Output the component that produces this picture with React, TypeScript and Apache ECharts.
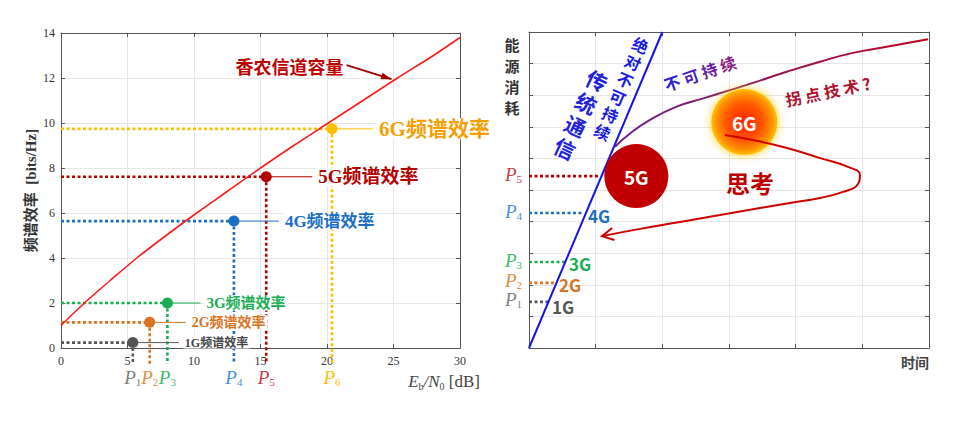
import React, { useEffect, useRef } from "react";
import * as echarts from "echarts";

// ---------- Left panel data ----------
const leftXTicks = { min: 0, max: 30, step: 5 };
const leftYTicks = { min: 0, max: 14, step: 2 };
const shannonX = [0, 1.76, 3.7, 5.7, 7.9, 10.2, 12.6, 15.0, 17.5, 20.1, 22.7, 25.3, 28.0, 30];
const shannonY = [1, 2, 3, 4, 5, 6, 7, 8, 9, 10, 11, 12, 13, 13.8];
const genNames = ["1G", "2G", "3G", "4G", "5G", "6G"];
const genX = [5.4, 6.67, 8.0, 13.0, 15.43, 20.38];
const genY = [0.24, 1.14, 2.0, 5.64, 7.61, 9.74];
const genDropTo = -0.7;
const pSubs = ["1", "2", "3", "4", "5", "6"];
const shannonArrowTip = [24.85, 11.95];

// ---------- Right panel data ----------
const rightXRange = [0, 6];
const rightYRange = [0, 10];
const blueLineX = [0, 2];
const blueLineY = [0, 10];
const curveX = [1.29, 1.515, 1.815, 2.215, 2.615, 3.015, 3.36, 3.865, 4.365, 4.86, 5.365, 5.985];
const curveY = [6.37, 6.79, 7.22, 7.64, 7.9, 8.16, 8.39, 8.74, 9.06, 9.34, 9.53, 9.77];
const thinkX = [2.94, 3.36, 3.87, 4.365, 4.785, 4.965, 4.935, 4.71, 4.365, 3.915, 3.465, 2.865, 2.265, 1.665, 1.095];
const thinkY = [6.74, 6.58, 6.33, 6.01, 5.73, 5.47, 5.19, 4.94, 4.75, 4.59, 4.43, 4.21, 3.99, 3.77, 3.54];
const levelNames = ["1G", "2G", "3G", "4G", "5G"];
const levelY = [1.46, 2.06, 2.72, 4.27, 5.44];
const levelEndX = [0.285, 0.39, 0.54, 0.825, 1.065];
const circle5G = [1.61, 5.44];
const circle6G = [3.23, 7.15];

// ---------- styles ----------
const genColors = ["#555555", "#D9731F", "#19AE53", "#1B6FC2", "#B30000", "#FFC000"];
const genLabelColors = ["#444444", "#D9731F", "#19AE53", "#1B6FC2", "#B30000", "#F5A000"];
const pColors = ["#7F7F7F", "#E38B3C", "#3DBB6A", "#4A8FE0", "#C8404A", "#FFC000"];
const genLabelSizes = [12, 14, 15, 17, 19, 21];
const genLabelGap = [50, 40, 37, 49, 50, 45];
const rightLabelDy = [5, 2, 1, 2];

const SERIF = '"Liberation Serif", "DejaVu Serif", serif';
const CJK_SERIF = '"Liberation Serif", "Noto Sans CJK SC", serif';
const SANS = '"Noto Sans CJK SC", "Noto Sans", sans-serif';

const zip = (a: number[], b: number[]) => a.map((v, i) => [v, b[i]]);

function vHead(tip: number[], from: number[], len: number, deg: number) {
  const dx = from[0] - tip[0];
  const dy = from[1] - tip[1];
  const L = Math.hypot(dx, dy) || 1;
  const ux = dx / L;
  const uy = dy / L;
  const a = (deg * Math.PI) / 180;
  const r = (ang: number) => [
    tip[0] + len * (ux * Math.cos(ang) - uy * Math.sin(ang)),
    tip[1] + len * (ux * Math.sin(ang) + uy * Math.cos(ang)),
  ];
  return [r(a), tip, r(-a)];
}

function pRich(sub: string, color: string) {
  return {
    text: `{p|P}{s|${sub}}`,
    rich: {
      p: { fontFamily: SERIF, fontStyle: "italic", fontSize: 19, fill: color, lineHeight: 20 },
      s: { fontFamily: SERIF, fontSize: 11, fill: color, lineHeight: 11, verticalAlign: "bottom" },
    },
  };
}

export default function App() {
  const ref = useRef<HTMLDivElement>(null);
  useEffect(() => {
    const chart = echarts.init(ref.current!, null, { renderer: "svg" });

    const axisLine = { show: true, onZero: false, lineStyle: { color: "#555", width: 1 } };
    const tick = { show: true, inside: true, length: 4, lineStyle: { color: "#555" } };
    const split = { show: true, lineStyle: { color: "#E6E6E6", width: 1 } };
    const dotted = (color: string) => ({ color, width: 2.6, type: [3, 2.5], cap: "butt" });

    const series: any[] = [];
    // Left: Shannon line
    series.push({
      type: "line", xAxisIndex: 0, yAxisIndex: 0, data: zip(shannonX, shannonY), showSymbol: false, smooth: 0.3,
      lineStyle: { color: "#FF1A1A", width: 1.6 }, z: 4, silent: true,
    });
    genX.forEach((x, i) => {
      series.push({
        type: "line", xAxisIndex: 0, yAxisIndex: 0, data: [[0, genY[i]], [x, genY[i]]], showSymbol: false,
        lineStyle: dotted(genColors[i]), z: 3, silent: true,
      });
      series.push({
        type: "line", xAxisIndex: 0, yAxisIndex: 0, data: [[x, genY[i]], [x, genDropTo]], showSymbol: false, clip: false,
        lineStyle: dotted(genColors[i]), z: 3, silent: true,
      });
    });
    series.push({
      type: "scatter", xAxisIndex: 0, yAxisIndex: 0, symbolSize: 11, z: 6, silent: true,
      data: genX.map((x, i) => ({ value: [x, genY[i]], itemStyle: { color: genColors[i], opacity: 1 } })),
    });

    // Right panel
    series.push({
      type: "line", xAxisIndex: 2, yAxisIndex: 2, data: zip(blueLineX, blueLineY), showSymbol: false,
      lineStyle: { color: "#1414E6", width: 2 }, z: 4, silent: true,
    });
    levelY.forEach((y, i) => {
      series.push({
        type: "line", xAxisIndex: 2, yAxisIndex: 2, data: [[0, y], [levelEndX[i], y]], showSymbol: false,
        lineStyle: dotted(genColors[i]), z: 3, silent: true,
      });
    });
    series.push({
      type: "scatter", xAxisIndex: 2, yAxisIndex: 2, z: 5, silent: true,
      label: { show: true, position: "inside", color: "#fff", fontSize: 19, fontWeight: "bold", fontFamily: SANS },
      data: [
        { value: circle5G, symbolSize: 64, itemStyle: { color: "#C00000", opacity: 1 }, label: { formatter: "5G" } },
        {
          value: circle6G, symbolSize: 66,
          itemStyle: {
            opacity: 1,
            color: new echarts.graphic.RadialGradient(0.5, 0.5, 0.5, [
              { offset: 0, color: "#FF2400" },
              { offset: 0.55, color: "#FF5500" },
              { offset: 0.85, color: "#FF9200" },
              { offset: 1, color: "#FFC400" },
            ]),
            shadowBlur: 10, shadowColor: "rgba(255,200,0,0.85)",
          },
          label: { formatter: "6G" },
        },
      ],
    });
    series.push({
      type: "line", xAxisIndex: 2, yAxisIndex: 2, data: zip(curveX, curveY), showSymbol: false, smooth: true,
      lineStyle: {
        width: 2,
        color: new echarts.graphic.LinearGradient(0, 0, 1, 0, [
          { offset: 0, color: "#6B2390" },
          { offset: 0.5, color: "#951452" },
          { offset: 1, color: "#C4001A" },
        ]),
      },
      z: 4, silent: true,
    });
    series.push({
      type: "line", xAxisIndex: 2, yAxisIndex: 2, data: zip(thinkX, thinkY), showSymbol: false, smooth: true,
      lineStyle: { color: "#D00000", width: 2 }, z: 7, silent: true,
    });

    const option: any = {
      animation: false,
      backgroundColor: "#fff",
      grid: [
        { left: 61, top: 33, width: 399, height: 315 },
        { left: 529, top: 32, width: 400, height: 316 },
      ],
      xAxis: [
        {
          gridIndex: 0, type: "value", min: leftXTicks.min, max: leftXTicks.max, interval: leftXTicks.step, position: "bottom",
          axisLine, axisTick: tick, splitLine: split,
          axisLabel: { color: "#333", fontFamily: SERIF, fontSize: 12, margin: 7 },
        },
        {
          gridIndex: 0, type: "value", min: leftXTicks.min, max: leftXTicks.max, interval: leftXTicks.step, position: "top",
          axisLine, axisTick: tick, splitLine: { show: false }, axisLabel: { show: false },
        },
        {
          gridIndex: 1, type: "value", min: rightXRange[0], max: rightXRange[1], interval: 1, position: "bottom",
          axisLine, axisTick: tick, splitLine: split, axisLabel: { show: false },
        },
        {
          gridIndex: 1, type: "value", min: rightXRange[0], max: rightXRange[1], interval: 1, position: "top",
          axisLine, axisTick: tick, splitLine: { show: false }, axisLabel: { show: false },
        },
      ],
      yAxis: [
        {
          gridIndex: 0, type: "value", min: leftYTicks.min, max: leftYTicks.max, interval: leftYTicks.step, position: "left",
          axisLine, axisTick: tick, splitLine: split,
          axisLabel: { color: "#333", fontFamily: SERIF, fontSize: 12, margin: 6 },
          name: "频谱效率  [bits/Hz]", nameLocation: "middle", nameGap: 23,
          nameTextStyle: { color: "#333", fontFamily: CJK_SERIF, fontSize: 15, fontWeight: "bold" },
        },
        {
          gridIndex: 0, type: "value", min: leftYTicks.min, max: leftYTicks.max, interval: leftYTicks.step, position: "right",
          axisLine, axisTick: tick, splitLine: { show: false }, axisLabel: { show: false },
        },
        {
          gridIndex: 1, type: "value", min: rightYRange[0], max: rightYRange[1], interval: 1, position: "left",
          axisLine, axisTick: tick, splitLine: split, axisLabel: { show: false },
        },
        {
          gridIndex: 1, type: "value", min: rightYRange[0], max: rightYRange[1], interval: 1, position: "right",
          axisLine, axisTick: tick, splitLine: { show: false }, axisLabel: { show: false },
        },
      ],
      series,
    };
    chart.setOption(option);

    const p0 = (x: number, y: number) => chart.convertToPixel({ gridIndex: 0 } as any, [x, y]) as number[];
    const p1 = (x: number, y: number) => chart.convertToPixel({ gridIndex: 1 } as any, [x, y]) as number[];
    const g: any[] = [];

    // Left labels
    genX.forEach((x, i) => {
      const [px, py] = p0(x, genY[i]);
      g.push({
        type: "line", z: 15, shape: { x1: px + 4, y1: py, x2: px + genLabelGap[i] - 4, y2: py },
        style: { stroke: genColors[i], lineWidth: 1 }, silent: true,
      });
      g.push({
        type: "text", z: 20, x: px + genLabelGap[i], y: py, silent: true,
        style: {
          text: genNames[i] + "频谱效率", fill: genLabelColors[i], textAlign: "left", verticalAlign: "middle",
          font: `bold ${genLabelSizes[i]}px ${CJK_SERIF}`, backgroundColor: "#fff", padding: [0, 2],
        },
      });
      const [bx, by] = p0(x, 0);
      g.push({
        type: "text", z: 20, x: bx, y: by + 29, silent: true,
        style: { ...pRich(pSubs[i], pColors[i]), textAlign: "center", verticalAlign: "middle", fill: pColors[i] },
      });
    });
    // x axis name
    {
      const [ex, ey] = p0(30, 0);
      g.push({
        type: "text", z: 20, x: ex + 20, y: ey + 33, silent: true,
        style: {
          text: "{i|E}{s|b}{i|/N}{s|0}{n| [dB]}", textAlign: "right", verticalAlign: "middle", fill: "#444",
          rich: {
            i: { fontFamily: SERIF, fontStyle: "italic", fontSize: 17, fill: "#444", lineHeight: 20 },
            s: { fontFamily: SERIF, fontSize: 10, fill: "#444", lineHeight: 10, verticalAlign: "bottom" },
            n: { fontFamily: SERIF, fontSize: 17, fill: "#444", lineHeight: 20 },
          },
        },
      });
    }
    // Shannon arrow
    {
      const tip = p0(shannonArrowTip[0], shannonArrowTip[1]);
      const tail = [tip[0] - 45, tip[1] - 14];
      g.push({ type: "line", z: 15, shape: { x1: tail[0], y1: tail[1], x2: tip[0], y2: tip[1] }, style: { stroke: "#A50000", lineWidth: 2 }, silent: true });
      g.push({ type: "polygon", z: 15, shape: { points: vHead(tip, tail, 11, 18) }, style: { fill: "#A50000" }, silent: true });
      g.push({
        type: "text", z: 20, x: tail[0] - 3, y: tail[1] + 1, silent: true,
        style: { text: "香农信道容量", fill: "#C00000", font: `bold 18px ${SANS}`, textAlign: "right", verticalAlign: "middle" },
      });
    }

    // Right labels
    levelY.forEach((y, i) => {
      const [ax, ay] = p1(0, y);
      g.push({
        type: "text", z: 20, x: ax - 7, y: ay - 2, silent: true,
        style: { ...pRich(pSubs[i], pColors[i]), textAlign: "right", verticalAlign: "middle", fill: pColors[i] },
      });
      if (i < 4) {
        const [lx, ly] = p1(levelEndX[i], y);
        g.push({
          type: "text", z: 20, x: lx + 4, y: ly + rightLabelDy[i], silent: true,
          style: {
            text: levelNames[i], fill: genColors[i], font: `bold 17px ${SANS}`,
            textAlign: "left", verticalAlign: "middle",
          },
        });
      }
    });
    {
      const [tx, ty] = p1(0, 10);
      g.push({
        type: "text", z: 20, x: tx - 17, y: ty + 2, silent: true,
        style: { text: "能\n源\n消\n耗", fill: "#333", font: `bold 15px ${SANS}`, lineHeight: 21, textAlign: "center", verticalAlign: "top" },
      });
      const [rx, ry] = p1(6, 0);
      g.push({
        type: "text", z: 20, x: rx, y: ry + 14, silent: true,
        style: { text: "时间", fill: "#444", font: `bold 14px ${SANS}`, textAlign: "right", verticalAlign: "middle" },
      });
      const c1 = p1(1.39, 8.22);
      g.push({
        type: "text", z: 20, x: c1[0], y: c1[1], rotation: -0.41, silent: true,
        style: { text: "绝\n对\n不\n可\n持\n续", fill: "#1A1AE0", font: `bold 16px ${SANS}`, lineHeight: 19, textAlign: "center", verticalAlign: "middle" },
      });
      const c2 = p1(0.78, 7.4);
      g.push({
        type: "text", z: 20, x: c2[0], y: c2[1], rotation: -0.44, silent: true,
        style: {
          text: "传\n统\n通\n信", fill: "#2222DD", font: `bold 21px ${SANS}`, lineHeight: 25, textAlign: "center", verticalAlign: "middle",
          shadowBlur: 6, shadowColor: "rgba(90,90,255,0.8)",
        },
      });
      const c3 = p1(2.565, 8.7);
      g.push({
        type: "text", z: 20, x: c3[0], y: c3[1], rotation: 0.33, silent: true,
        style: {
          text: "{a|不} {b|可} {c|持} {d|续}", textAlign: "center", verticalAlign: "middle", font: `bold 16px ${SANS}`,
          rich: {
            a: { fill: "#2A22D0", font: `bold 16px ${SANS}` },
            b: { fill: "#4A22B8", font: `bold 16px ${SANS}` },
            c: { fill: "#6A1FA0", font: `bold 16px ${SANS}` },
            d: { fill: "#8A1A80", font: `bold 16px ${SANS}` },
          },
        },
      });
      const c4 = p1(4.485, 8.13);
      g.push({
        type: "text", z: 20, x: c4[0], y: c4[1], rotation: 0.2, silent: true,
        style: { text: "拐 点 技 术 ?", fill: "#B0102A", font: `bold 16px ${SANS}`, textAlign: "center", verticalAlign: "middle" },
      });
      const c5 = p1(3.315, 5.25);
      g.push({
        type: "text", z: 20, x: c5[0], y: c5[1], silent: true,
        style: { text: "思考", fill: "#C00000", font: `bold 24px ${SANS}`, textAlign: "center", verticalAlign: "middle" },
      });
      const n = thinkX.length;
      const tip = p1(thinkX[n - 1], thinkY[n - 1]);
      const prev = p1(thinkX[n - 2], thinkY[n - 2]);
      g.push({
        type: "polyline", z: 15, shape: { points: vHead(tip, prev, 13, 28) },
        style: { stroke: "#D00000", lineWidth: 2, fill: null }, silent: true,
      });
    }

    chart.setOption({ graphic: { elements: g } });
    return () => chart.dispose();
  }, []);

  return (
    <div
      ref={ref}
      style={{ position: "fixed", left: 0, top: 0, width: 960, height: 422, background: "#fff" }}
    />
  );
}
